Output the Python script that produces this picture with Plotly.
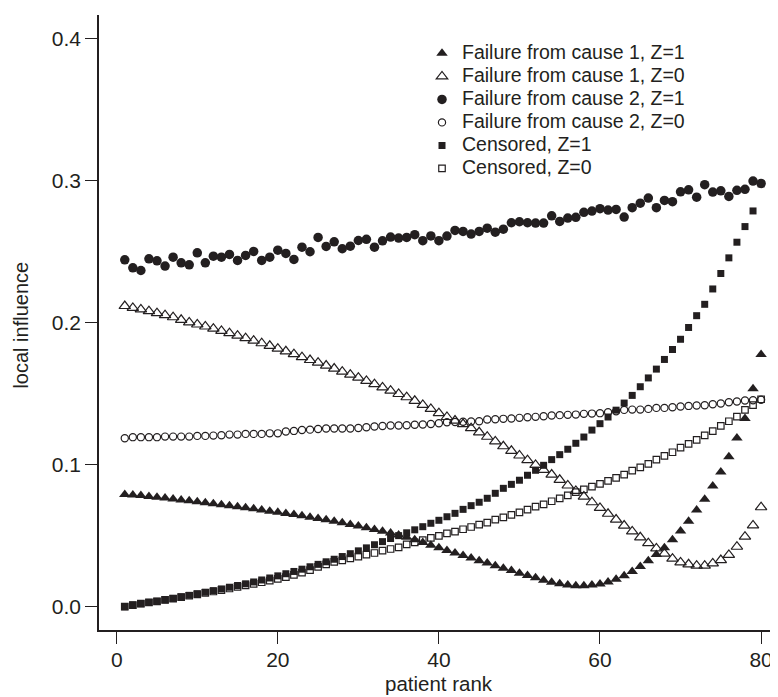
import plotly.graph_objects as go

patient_rank = list(range(1, 81))

cause1_z1 = [0.0789, 0.0786, 0.0782, 0.0776, 0.0770, 0.0765, 0.0758, 0.0751, 0.0745, 0.0739,
             0.0732, 0.0725, 0.0718, 0.0711, 0.0704, 0.0697, 0.0689, 0.0681, 0.0672, 0.0664,
             0.0656, 0.0648, 0.0640, 0.0630, 0.0620, 0.0611, 0.0601, 0.0590, 0.0579, 0.0568,
             0.0556, 0.0544, 0.0531, 0.0518, 0.0504, 0.0489, 0.0472, 0.0452, 0.0433, 0.0415,
             0.0396, 0.0378, 0.0360, 0.0342, 0.0324, 0.0307, 0.0289, 0.0271, 0.0254, 0.0236,
             0.0219, 0.0203, 0.0186, 0.0172, 0.0161, 0.0153, 0.0148, 0.0147, 0.0152, 0.0160,
             0.0173, 0.0194, 0.0218, 0.0248, 0.0283, 0.0323, 0.0368, 0.0415, 0.0472, 0.0532,
             0.0602, 0.0680, 0.0757, 0.0850, 0.0948, 0.1056, 0.1187, 0.1325, 0.1533, 0.1775]

cause1_z0 = [0.2116, 0.2103, 0.2092, 0.2080, 0.2066, 0.2052, 0.2037, 0.2019, 0.2001, 0.1986,
             0.1972, 0.1957, 0.1941, 0.1925, 0.1907, 0.1890, 0.1872, 0.1854, 0.1836, 0.1816,
             0.1797, 0.1777, 0.1756, 0.1736, 0.1717, 0.1697, 0.1676, 0.1654, 0.1633, 0.1612,
             0.1589, 0.1566, 0.1543, 0.1520, 0.1497, 0.1474, 0.1449, 0.1420, 0.1392, 0.1362,
             0.1335, 0.1310, 0.1285, 0.1256, 0.1227, 0.1196, 0.1163, 0.1129, 0.1097, 0.1064,
             0.1031, 0.0998, 0.0963, 0.0930, 0.0893, 0.0853, 0.0815, 0.0775, 0.0735, 0.0695,
             0.0654, 0.0613, 0.0571, 0.0530, 0.0488, 0.0447, 0.0410, 0.0373, 0.0338, 0.0312,
             0.0298, 0.0289, 0.0289, 0.0305, 0.0328, 0.0364, 0.0422, 0.0493, 0.0572, 0.0700]

cause2_z1 = [0.2441, 0.2385, 0.2366, 0.2448, 0.2434, 0.2397, 0.2460, 0.2420, 0.2406, 0.2490,
             0.2420, 0.2467, 0.2460, 0.2479, 0.2437, 0.2472, 0.2500, 0.2437, 0.2460, 0.2509,
             0.2486, 0.2444, 0.2530, 0.2498, 0.2599, 0.2535, 0.2568, 0.2519, 0.2537, 0.2577,
             0.2585, 0.2530, 0.2575, 0.2601, 0.2594, 0.2599, 0.2618, 0.2576, 0.2609, 0.2576,
             0.2608, 0.2648, 0.2641, 0.2622, 0.2641, 0.2664, 0.2636, 0.2657, 0.2702, 0.2709,
             0.2702, 0.2700, 0.2700, 0.2751, 0.2711, 0.2735, 0.2740, 0.2775, 0.2784, 0.2801,
             0.2791, 0.2796, 0.2742, 0.2808, 0.2840, 0.2876, 0.2808, 0.2859, 0.2850, 0.2920,
             0.2934, 0.2882, 0.2970, 0.2918, 0.2927, 0.2887, 0.2930, 0.2937, 0.2995, 0.2979]

cause2_z0 = [0.1185, 0.1193, 0.1193, 0.1193, 0.1193, 0.1197, 0.1197, 0.1197, 0.1197, 0.1202,
             0.1202, 0.1204, 0.1207, 0.1211, 0.1211, 0.1216, 0.1216, 0.1216, 0.1220, 0.1220,
             0.1233, 0.1237, 0.1244, 0.1246, 0.1251, 0.1254, 0.1254, 0.1254, 0.1254, 0.1258,
             0.1263, 0.1268, 0.1272, 0.1275, 0.1275, 0.1277, 0.1280, 0.1282, 0.1286, 0.1291,
             0.1298, 0.1300, 0.1302, 0.1303, 0.1305, 0.1317, 0.1319, 0.1322, 0.1324, 0.1329,
             0.1333, 0.1336, 0.1340, 0.1345, 0.1348, 0.1350, 0.1352, 0.1357, 0.1359, 0.1362,
             0.1368, 0.1375, 0.1385, 0.1387, 0.1387, 0.1392, 0.1399, 0.1399, 0.1404, 0.1409,
             0.1413, 0.1416, 0.1418, 0.1425, 0.1430, 0.1439, 0.1444, 0.1451, 0.1453, 0.1456]

censored_z1 = [0.0000, 0.0012, 0.0021, 0.0030, 0.0038, 0.0048, 0.0058, 0.0069, 0.0080, 0.0091,
               0.0102, 0.0113, 0.0125, 0.0137, 0.0149, 0.0161, 0.0174, 0.0188, 0.0202, 0.0217,
               0.0232, 0.0248, 0.0264, 0.0281, 0.0298, 0.0316, 0.0334, 0.0353, 0.0373, 0.0393,
               0.0414, 0.0436, 0.0458, 0.0480, 0.0500, 0.0520, 0.0541, 0.0563, 0.0587, 0.0608,
               0.0633, 0.0657, 0.0685, 0.0711, 0.0735, 0.0763, 0.0798, 0.0833, 0.0861, 0.0890,
               0.0925, 0.0960, 0.0995, 0.1035, 0.1070, 0.1108, 0.1150, 0.1194, 0.1243, 0.1288,
               0.1335, 0.1383, 0.1433, 0.1487, 0.1548, 0.1610, 0.1672, 0.1740, 0.1810, 0.1882,
               0.1965, 0.2048, 0.2128, 0.2236, 0.2345, 0.2455, 0.2565, 0.2675, 0.2785, 0.2975]

censored_z0 = [0.0000, 0.0011, 0.0021, 0.0030, 0.0038, 0.0048, 0.0057, 0.0067, 0.0077, 0.0087,
               0.0097, 0.0107, 0.0117, 0.0128, 0.0139, 0.0150, 0.0161, 0.0172, 0.0184, 0.0196,
               0.0208, 0.0224, 0.0240, 0.0258, 0.0280, 0.0298, 0.0315, 0.0326, 0.0340, 0.0352,
               0.0366, 0.0378, 0.0394, 0.0406, 0.0418, 0.0438, 0.0453, 0.0468, 0.0484, 0.0498,
               0.0516, 0.0528, 0.0545, 0.0561, 0.0577, 0.0592, 0.0613, 0.0629, 0.0646, 0.0664,
               0.0683, 0.0704, 0.0720, 0.0742, 0.0763, 0.0784, 0.0806, 0.0825, 0.0845, 0.0864,
               0.0885, 0.0906, 0.0930, 0.0958, 0.0981, 0.1005, 0.1035, 0.1061, 0.1087, 0.1120,
               0.1146, 0.1174, 0.1206, 0.1235, 0.1273, 0.1305, 0.1338, 0.1385, 0.1418, 0.1460]

series_names = ["Failure from cause 1, Z=1", "Failure from cause 1, Z=0",
                "Failure from cause 2, Z=1", "Failure from cause 2, Z=0",
                "Censored, Z=1", "Censored, Z=0"]
series_values = [cause1_z1, cause1_z0, cause2_z1, cause2_z0, censored_z1, censored_z0]
series_symbols = ["triangle-up", "triangle-up-open", "circle", "circle-open", "square", "square-open"]
series_sizes = [10, 10, 9.5, 7.2, 7, 6.5]

INK = "#231f20"
FONT = "Liberation Sans, Arial, sans-serif"

fig = go.Figure()
# add in reverse so circles sit above squares; legend shown reversed back to original order
for name, vals, sym, size in reversed(list(zip(series_names, series_values, series_symbols, series_sizes))):
    is_open = sym.endswith("open")
    fig.add_trace(go.Scatter(
        x=patient_rank, y=vals, mode="markers",
        name=f'<span style="font-size:19.5px">{name}</span>',
        marker=dict(symbol=sym, size=size, color=INK,
                    line=dict(color=INK, width=1.2 if is_open else 0)),
    ))

axis_common = dict(
    showline=True, linecolor=INK, linewidth=1.5, mirror=False,
    ticks="outside", ticklen=12, tickwidth=1.3, tickcolor=INK,
    showgrid=False, zeroline=False, automargin=False,
    tickfont=dict(family=FONT, size=21, color=INK),
)

# page body has an 8px default margin, so the figure is 8px smaller than the window
fig.update_layout(
    width=770, height=689,
    margin=dict(l=91, r=0, t=7, b=67),
    paper_bgcolor="white", plot_bgcolor="white",
    font=dict(family=FONT, color=INK),
    xaxis=dict(range=[-2.2, 82.1], tickvals=[0, 20, 40, 60, 80],
               ticklabelstandoff=-2, **axis_common),
    yaxis=dict(range=[-0.0164, 0.4164], tickvals=[0, 0.1, 0.2, 0.3, 0.4],
               ticktext=["0.0", "0.1", "0.2", "0.3", "0.4"], **axis_common),
    showlegend=True,
    legend=dict(x=0.4757, xanchor="left", y=0.9645, yanchor="top", traceorder="reversed",
                font=dict(family=FONT, size=15.4, color=INK),
                bgcolor="rgba(0,0,0,0)", borderwidth=0, tracegroupgap=0),
    annotations=[
        dict(text="local influence", textangle=-90, xref="paper", yref="paper",
             x=0, y=0.495, xanchor="center", yanchor="middle", xshift=-78, showarrow=False,
             font=dict(family=FONT, size=20, color=INK)),
        dict(text="patient rank", xref="paper", yref="paper",
             x=0.5, y=0, xanchor="center", yanchor="middle", yshift=-53.5, showarrow=False,
             font=dict(family=FONT, size=20.5, color=INK)),
    ],
)

fig.write_html("out.html")
